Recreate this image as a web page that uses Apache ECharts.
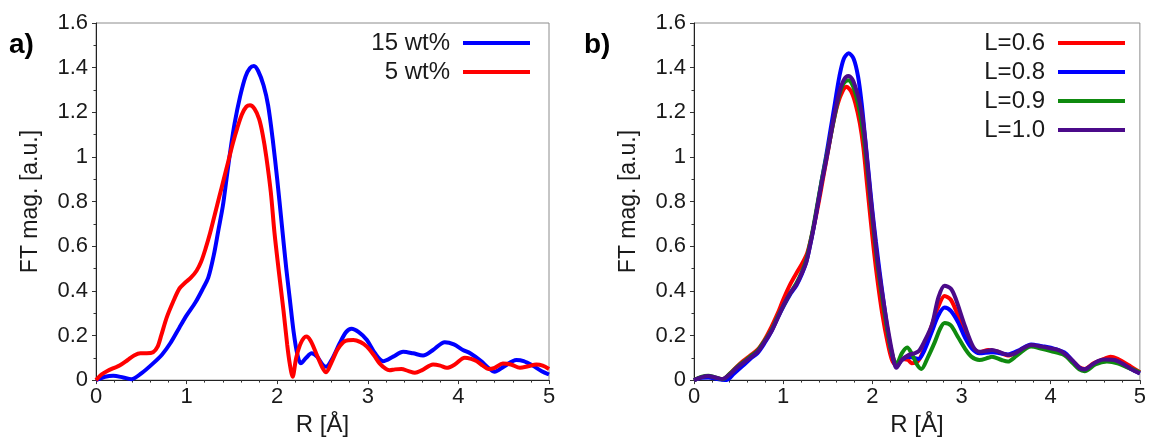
<!DOCTYPE html>
<html>
<head>
<meta charset="utf-8">
<title>FT magnitude vs R</title>
<script src="https://cdn.jsdelivr.net/npm/echarts@6/dist/echarts.min.js"></script>
<style>
  html, body { margin: 0; padding: 0; background: #fff; }
  #chart { width: 1149px; height: 442px; }
</style>
</head>
<body>
<div id="chart"></div>
<script>
// Axis ticks
const xTicks = [0, 1, 2, 3, 4, 5];
const yTicks = [0, 0.2, 0.4, 0.6, 0.8, 1, 1.2, 1.4, 1.6];

// Panel a) — loading series: [R (Å), FT magnitude]
const namesA = ['15 wt%', '5 wt%'];
const wt15 = [[0,0],[0.1,0.015],[0.19,0.02],[0.3,0.012],[0.39,0.004],[0.5,0.03],[0.63,0.075],[0.73,0.115],[0.82,0.165],
  [0.92,0.235],[1.0,0.29],[1.1,0.35],[1.18,0.41],[1.24,0.46],[1.3,0.56],[1.35,0.67],[1.4,0.78],[1.44,0.9],[1.48,1.02],
  [1.53,1.15],[1.59,1.27],[1.65,1.36],[1.7,1.398],[1.743,1.407],[1.79,1.385],[1.85,1.32],[1.9,1.23],[1.95,1.08],
  [2.0,0.9],[2.05,0.7],[2.1,0.5],[2.14,0.36],[2.18,0.22],[2.22,0.12],[2.26,0.075],[2.32,0.1],[2.38,0.12],
  [2.44,0.105],[2.5,0.07],[2.54,0.06],[2.6,0.09],[2.69,0.165],[2.76,0.215],[2.82,0.23],[2.9,0.215],[2.99,0.18],[3.08,0.12],
  [3.17,0.085],[3.28,0.105],[3.39,0.127],[3.5,0.12],[3.61,0.11],[3.72,0.135],[3.85,0.17],[3.95,0.16],[4.05,0.135],
  [4.13,0.12],[4.25,0.085],[4.33,0.055],[4.4,0.037],[4.5,0.06],[4.64,0.09],[4.72,0.085],[4.82,0.065],[4.92,0.04],[5.0,0.025]];
const wt5 = [[0,0],[0.06,0.025],[0.12,0.04],[0.2,0.055],[0.26,0.065],[0.35,0.09],[0.42,0.11],[0.49,0.12],[0.56,0.12],
  [0.63,0.125],[0.68,0.15],[0.72,0.2],[0.78,0.28],[0.85,0.35],[0.92,0.41],[0.98,0.435],[1.05,0.46],[1.11,0.49],[1.16,0.53],
  [1.21,0.59],[1.26,0.66],[1.31,0.74],[1.36,0.82],[1.41,0.9],[1.46,0.98],[1.51,1.06],[1.56,1.13],[1.61,1.19],[1.66,1.225],
  [1.7,1.231],[1.75,1.215],[1.8,1.17],[1.84,1.1],[1.88,1.0],[1.93,0.84],[1.97,0.66],[2.02,0.48],[2.07,0.31],[2.11,0.16],
  [2.14,0.07],[2.17,0.015],[2.21,0.1],[2.26,0.165],[2.32,0.195],[2.37,0.175],[2.44,0.11],[2.5,0.055],[2.54,0.035],[2.6,0.08],
  [2.67,0.14],[2.75,0.175],[2.84,0.18],[2.92,0.17],[2.99,0.15],[3.07,0.11],[3.13,0.075],[3.2,0.05],[3.24,0.044],[3.3,0.048],
  [3.37,0.05],[3.45,0.04],[3.52,0.033],[3.6,0.045],[3.72,0.07],[3.8,0.065],[3.87,0.055],[3.96,0.07],[4.07,0.1],[4.14,0.095],
  [4.2,0.085],[4.27,0.065],[4.33,0.05],[4.4,0.055],[4.49,0.074],[4.58,0.07],[4.68,0.055],[4.77,0.062],[4.86,0.07],
  [4.93,0.065],[5.0,0.05]];

// Panel b) — L series: [R (Å), FT magnitude]
const namesB = ['L=0.6', 'L=0.8', 'L=0.9', 'L=1.0'];
const l06 = [[0,0],[0.08,0.012],[0.16,0.016],[0.24,0.01],[0.32,0.004],[0.4,0.028],[0.48,0.06],[0.55,0.085],[0.63,0.11],
  [0.71,0.135],[0.79,0.18],[0.87,0.24],[0.94,0.3],[1.0,0.36],[1.08,0.43],[1.15,0.48],[1.21,0.52],[1.27,0.57],[1.31,0.63],
  [1.35,0.7],[1.4,0.8],[1.45,0.91],[1.5,1.02],[1.55,1.13],[1.6,1.22],[1.65,1.28],[1.71,1.314],[1.76,1.295],[1.81,1.24],
  [1.86,1.15],[1.9,1.04],[1.94,0.88],[1.98,0.72],[2.02,0.57],[2.06,0.44],[2.11,0.3],[2.17,0.17],[2.22,0.09],[2.27,0.065],
  [2.33,0.095],[2.4,0.09],[2.44,0.076],[2.5,0.08],[2.56,0.12],[2.67,0.25],[2.74,0.33],[2.81,0.377],[2.88,0.36],[2.96,0.29],
  [3.04,0.21],[3.12,0.15],[3.2,0.125],[3.3,0.135],[3.4,0.128],[3.52,0.11],[3.62,0.125],[3.78,0.155],[3.9,0.148],[4.0,0.14],
  [4.15,0.12],[4.25,0.085],[4.32,0.058],[4.38,0.05],[4.48,0.075],[4.6,0.095],[4.67,0.105],[4.75,0.095],[4.9,0.06],[5.0,0.035]];
const l08 = [[0,0],[0.08,0.01],[0.16,0.012],[0.26,0.005],[0.36,0.0],[0.45,0.03],[0.55,0.065],[0.63,0.095],[0.71,0.12],
  [0.79,0.165],[0.87,0.22],[0.94,0.28],[1.01,0.335],[1.08,0.385],[1.15,0.425],[1.21,0.475],[1.26,0.53],[1.3,0.6],[1.34,0.68],
  [1.38,0.77],[1.43,0.89],[1.48,1.0],[1.53,1.12],[1.58,1.24],[1.63,1.36],[1.68,1.44],[1.735,1.464],[1.79,1.44],[1.84,1.36],
  [1.88,1.24],[1.92,1.08],[1.96,0.92],[2.0,0.76],[2.04,0.62],[2.08,0.49],[2.13,0.34],[2.18,0.2],[2.23,0.1],[2.27,0.06],
  [2.33,0.09],[2.4,0.105],[2.46,0.1],[2.52,0.095],[2.58,0.13],[2.67,0.22],[2.74,0.29],[2.81,0.325],[2.88,0.31],[2.96,0.26],
  [3.04,0.19],[3.12,0.14],[3.2,0.12],[3.34,0.125],[3.52,0.115],[3.65,0.135],[3.78,0.16],[3.9,0.152],[4.0,0.145],[4.15,0.125],
  [4.25,0.085],[4.32,0.056],[4.38,0.047],[4.48,0.07],[4.6,0.09],[4.7,0.09],[4.8,0.072],[4.9,0.05],[5.0,0.03]];
const l09 = [[0,0],[0.08,0.014],[0.16,0.02],[0.24,0.012],[0.32,0.004],[0.4,0.028],[0.48,0.058],[0.55,0.08],[0.63,0.105],
  [0.71,0.13],[0.79,0.175],[0.87,0.225],[0.94,0.285],[1.01,0.34],[1.08,0.39],[1.15,0.435],[1.21,0.485],[1.26,0.54],[1.3,0.61],
  [1.34,0.69],[1.38,0.78],[1.43,0.89],[1.48,0.99],[1.53,1.09],[1.58,1.19],[1.63,1.28],[1.68,1.33],[1.73,1.343],[1.78,1.32],
  [1.82,1.27],[1.86,1.2],[1.9,1.1],[1.94,0.96],[1.98,0.8],[2.02,0.65],[2.06,0.51],[2.11,0.37],[2.17,0.22],[2.22,0.12],
  [2.27,0.07],[2.33,0.12],[2.39,0.146],[2.44,0.12],[2.5,0.07],[2.55,0.05],[2.62,0.1],[2.7,0.17],[2.76,0.23],[2.81,0.256],
  [2.88,0.245],[2.96,0.193],[3.04,0.14],[3.11,0.105],[3.2,0.09],[3.3,0.1],[3.34,0.105],[3.45,0.09],[3.52,0.083],[3.62,0.11],
  [3.78,0.15],[3.9,0.14],[4.0,0.13],[4.15,0.113],[4.25,0.075],[4.32,0.048],[4.38,0.04],[4.5,0.07],[4.63,0.083],[4.75,0.075],
  [4.9,0.05],[5.0,0.035]];
const l10 = [[0,0],[0.08,0.012],[0.16,0.018],[0.24,0.012],[0.32,0.005],[0.4,0.025],[0.48,0.055],[0.55,0.076],[0.63,0.1],
  [0.71,0.125],[0.79,0.17],[0.87,0.22],[0.94,0.28],[1.01,0.34],[1.08,0.39],[1.15,0.43],[1.21,0.48],[1.26,0.53],[1.3,0.6],
  [1.34,0.68],[1.38,0.77],[1.43,0.88],[1.48,0.98],[1.53,1.09],[1.58,1.2],[1.63,1.29],[1.68,1.345],[1.73,1.363],[1.78,1.345],
  [1.82,1.3],[1.86,1.24],[1.9,1.145],[1.94,0.99],[1.98,0.82],[2.02,0.67],[2.06,0.53],[2.11,0.39],[2.17,0.24],[2.22,0.13],
  [2.27,0.055],[2.33,0.09],[2.41,0.113],[2.47,0.12],[2.52,0.13],[2.58,0.17],[2.67,0.25],[2.74,0.37],[2.81,0.423],[2.88,0.41],
  [2.93,0.37],[3.04,0.24],[3.13,0.15],[3.2,0.127],[3.27,0.13],[3.34,0.135],[3.43,0.125],[3.52,0.113],[3.6,0.12],[3.7,0.145],
  [3.78,0.157],[3.9,0.15],[4.0,0.142],[4.08,0.135],[4.15,0.12],[4.25,0.085],[4.32,0.055],[4.38,0.047],[4.45,0.065],
  [4.53,0.085],[4.6,0.092],[4.71,0.09],[4.8,0.075],[4.9,0.05],[5.0,0.03]];

const colorsA = ['#0000ff', '#ff0000'];
const colorsB = ['#ff0000', '#0000ff', '#0f8a0f', '#4b0a8a'];

const FONT = '"Liberation Sans", Arial, sans-serif';
const TEXT = '#1a1a1a';

function xAxisFor(gridIndex) {
  return {
    gridIndex, type: 'value', min: xTicks[0], max: xTicks[xTicks.length - 1], interval: 1,
    name: 'R [Å]', nameLocation: 'middle', nameGap: 28,
    nameTextStyle: { fontSize: 24, fontFamily: FONT, color: TEXT },
    axisLine: { show: true, lineStyle: { color: '#222', width: 1 } },
    axisTick: { show: true, inside: false, length: 4, lineStyle: { color: '#333' } },
    minorTick: { show: true, splitNumber: 5, length: 2.5, lineStyle: { color: '#333' } },
    splitLine: { show: false },
    axisLabel: { fontSize: 22, fontFamily: FONT, color: TEXT, margin: 6 }
  };
}
function yAxisFor(gridIndex) {
  return {
    gridIndex, type: 'value', min: yTicks[0], max: yTicks[yTicks.length - 1], interval: 0.2,
    name: 'FT mag. [a.u.]', nameLocation: 'middle', nameGap: 54,
    nameTextStyle: { fontSize: 23, fontFamily: FONT, color: TEXT },
    axisLine: { show: true, lineStyle: { color: '#222', width: 1 } },
    axisTick: { show: true, inside: false, length: 4, lineStyle: { color: '#333' } },
    minorTick: { show: true, splitNumber: 2, length: 2.5, lineStyle: { color: '#333' } },
    splitLine: { show: false },
    axisLabel: { fontSize: 22, fontFamily: FONT, color: TEXT, margin: 8,
      formatter: v => String(Number(v.toFixed(1))) }
  };
}
function lineSeries(name, data, color, axis) {
  return {
    name, type: 'line', data, xAxisIndex: axis, yAxisIndex: axis,
    showSymbol: false, smooth: 0.3, color,
    lineStyle: { color, width: 4 },
    emphasis: { disabled: true }, silent: true
  };
}
function legendFor(names, right) {
  return {
    data: names, orient: 'vertical', right, top: 31, align: 'right', padding: 0,
    icon: 'rect', itemWidth: 67, itemHeight: 4, itemGap: 5, selectedMode: false,
    textStyle: { fontSize: 24, fontFamily: FONT, color: TEXT, lineHeight: 24, padding: [0, 8, 0, 0] }
  };
}

const chart = echarts.init(document.getElementById('chart'), null, { renderer: 'canvas' });
chart.setOption({
  animation: false,
  backgroundColor: '#fff',
  grid: [
    { left: 96, top: 23, width: 453, height: 364, show: true, borderColor: '#8c8c8c', borderWidth: 1, backgroundColor: 'transparent' },
    { left: 694, top: 23, width: 449, height: 364, show: true, borderColor: '#8c8c8c', borderWidth: 1, backgroundColor: 'transparent' }
  ],
  xAxis: [xAxisFor(0), xAxisFor(1)],
  yAxis: [yAxisFor(0), yAxisFor(1)],
  legend: [legendFor(namesA, 619), legendFor(namesB, 24)],
  graphic: [
    { type: 'text', left: 9, top: 31, style: { text: 'a)', font: 'bold 28px ' + FONT, fill: '#000' } },
    { type: 'text', left: 584, top: 31, style: { text: 'b)', font: 'bold 28px ' + FONT, fill: '#000' } }
  ],
  series: [
    lineSeries(namesA[0], wt15, colorsA[0], 0),
    lineSeries(namesA[1], wt5, colorsA[1], 0),
    lineSeries(namesB[0], l06, colorsB[0], 1),
    lineSeries(namesB[1], l08, colorsB[1], 1),
    lineSeries(namesB[2], l09, colorsB[2], 1),
    lineSeries(namesB[3], l10, colorsB[3], 1)
  ]
});
</script>
</body>
</html>
